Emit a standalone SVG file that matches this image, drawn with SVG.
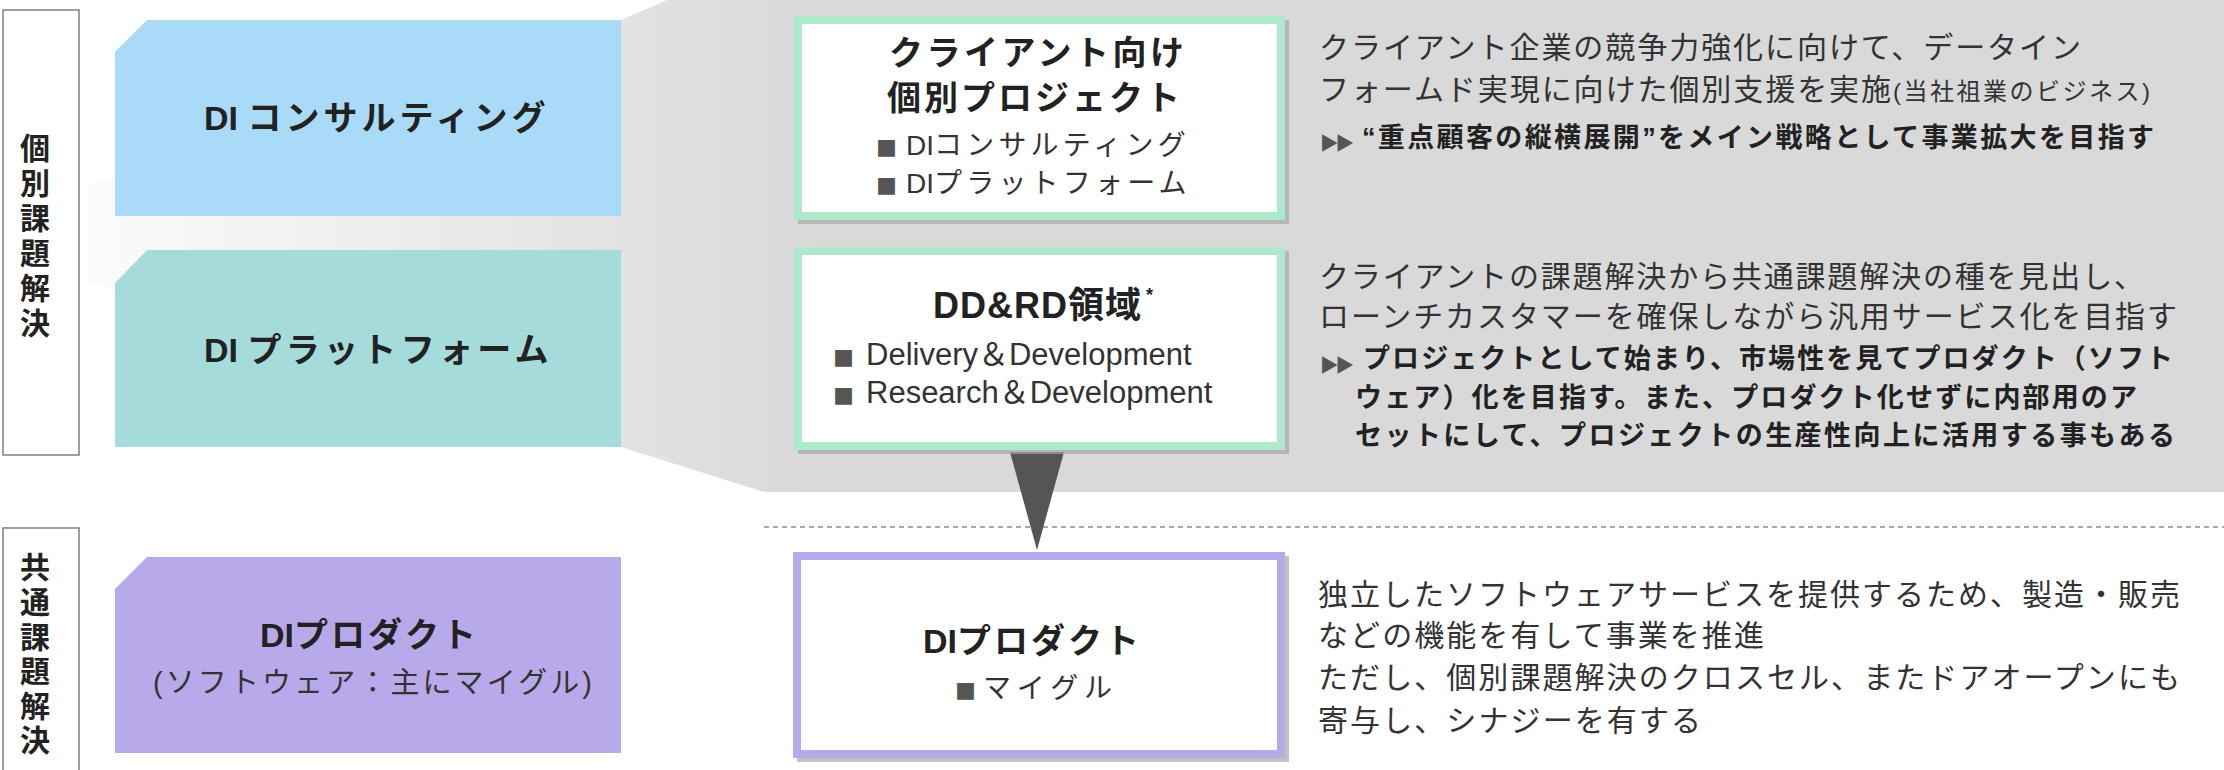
<svg xmlns="http://www.w3.org/2000/svg" width="2224" height="770" viewBox="0 0 2224 770">
<style>
.jp{font-family:"Liberation Sans","Noto Sans CJK JP",sans-serif;}
.b{font-weight:700;fill:#222;}
.n{font-weight:400;fill:#333;}
.lbl{font-family:"Noto Sans CJK JP",sans-serif;font-weight:700;font-size:30px;fill:#222;writing-mode:vertical-rl;text-orientation:upright;}
.lblbox{fill:#fff;stroke:#7f7f7f;stroke-width:1.5;}
.sq{font-family:"Noto Sans CJK JP",sans-serif;fill:#555;}
.tri{font-family:"DejaVu Sans",sans-serif;fill:#555;font-size:23px;}
.shadow{fill:#a6a6a6;opacity:.7;}
.card{fill:#fff;stroke-width:8;}
.mint{stroke:#ade9cc;}
.lav{stroke:#b8aaea;}
</style>
<defs>
<linearGradient id="bandGrad" gradientUnits="userSpaceOnUse" x1="87" y1="0" x2="820" y2="0">
<stop offset="0" stop-color="#fbfbfb"/>
<stop offset="1" stop-color="#d9d9d9"/>
</linearGradient>
</defs>
<rect width="2224" height="770" fill="#fff"/>
<g id="band">
<polygon points="87,185 621,20 667,0 2224,0 2224,492 764,492 621,447 87,282" fill="url(#bandGrad)"/>
</g>
<g id="label-individual">
<rect class="lblbox" x="3" y="10" width="76" height="445"/>
<text class="lbl" x="35" y="133" letter-spacing="5">個別課題解決</text>
</g>
<g id="label-common">
<rect class="lblbox" x="3" y="528" width="76" height="260"/>
<text class="lbl" x="35" y="552" letter-spacing="4.6">共通課題解決</text>
</g>
<g id="box-consulting">
<polygon points="147,20 621,20 621,216 115,216 115,52" fill="#a9daf7"/>
<text class="jp b" x="204" y="130" font-size="34">DI <tspan letter-spacing="4">コンサルティング</tspan></text>
</g>
<g id="box-platform">
<polygon points="147,250 621,250 621,447 115,447 115,283" fill="#a5dcdb"/>
<text class="jp b" x="204" y="362" font-size="34">DI <tspan letter-spacing="4.3">プラットフォーム</tspan></text>
</g>
<g id="box-product">
<polygon points="147,557 621,557 621,753 115,753 115,589" fill="#b8aaea"/>
<text class="jp b" x="260" y="647" font-size="34">DI<tspan letter-spacing="3">プロダクト</tspan></text>
<text class="jp n" x="153" y="693" font-size="29" textLength="439" lengthAdjust="spacing">(ソフトウェア：主にマイグル)</text>
</g>
<g id="separator">
<line x1="764" y1="527" x2="2224" y2="527" stroke="#8c8c8c" stroke-width="1.5" stroke-dasharray="5 4"/>
</g>
<g id="connectors">
<polygon points="1010,452 1064,452 1037,550" fill="#555"/>
</g>
<g id="card-client">
<rect class="shadow" x="798" y="20" width="491" height="204"/>
<rect class="card mint" x="798" y="20" width="483" height="196"/>
<text class="jp b" x="889" y="65" font-size="34" textLength="295" lengthAdjust="spacing">クライアント向け</text>
<text class="jp b" x="887" y="110" font-size="34" textLength="293" lengthAdjust="spacing">個別プロジェクト</text>
<text class="sq" x="876" y="156" font-size="21">■</text>
<text class="jp n" x="906" y="155" font-size="28">DI<tspan letter-spacing="4.2">コンサルティング</tspan></text>
<text class="sq" x="876" y="194" font-size="21">■</text>
<text class="jp n" x="906" y="193" font-size="28">DI<tspan letter-spacing="4.2">プラットフォーム</tspan></text>
</g>
<g id="card-ddrd">
<rect class="shadow" x="798" y="251" width="491" height="203"/>
<rect class="card mint" x="798" y="251" width="483" height="195"/>
<text class="jp b" x="933" y="318" font-size="36" letter-spacing="1">DD&amp;RD領域</text>
<text class="jp b" x="1146" y="301" font-size="18">*</text>
<text class="sq" x="833" y="366" font-size="21">■</text>
<text class="jp n" x="866" y="365" font-size="31">Delivery＆Development</text>
<text class="sq" x="833" y="404" font-size="21">■</text>
<text class="jp n" x="866" y="403" font-size="31">Research＆Development</text>
</g>
<g id="card-product">
<rect class="shadow" x="797" y="556" width="492" height="206"/>
<rect class="card lav" x="797" y="556" width="484" height="198"/>
<text class="jp b" x="923" y="653" font-size="34">DI<tspan letter-spacing="3">プロダクト</tspan></text>
<text class="sq" x="955" y="699" font-size="21">■</text>
<text class="jp n" x="983" y="698" font-size="28" textLength="129" lengthAdjust="spacing">マイグル</text>
</g>
<g id="desc-client">
<text class="jp n" x="1319" y="58" font-size="30" textLength="762" lengthAdjust="spacing">クライアント企業の競争力強化に向けて、データイン</text>
<text class="jp n" x="1319" y="100" font-size="30" textLength="572" lengthAdjust="spacing">フォームド実現に向けた個別支援を実施</text>
<text class="jp n" x="1893" y="100" font-size="24" textLength="257" lengthAdjust="spacing">(当社祖業のビジネス)</text>
<text class="tri" x="1322" y="149" textLength="31" lengthAdjust="spacingAndGlyphs">▶▶</text>
<text class="jp b" x="1362" y="147" font-size="27" textLength="792" lengthAdjust="spacing">“重点顧客の縦横展開”をメイン戦略として事業拡大を目指す</text>
</g>
<g id="desc-ddrd">
<text class="jp n" x="1319" y="287" font-size="30" textLength="825" lengthAdjust="spacing">クライアントの課題解決から共通課題解決の種を見出し、</text>
<text class="jp n" x="1319" y="327" font-size="30" textLength="858" lengthAdjust="spacing">ローンチカスタマーを確保しながら汎用サービス化を目指す</text>
<text class="tri" x="1322" y="371" textLength="31" lengthAdjust="spacingAndGlyphs">▶▶</text>
<text class="jp b" x="1363" y="368" font-size="27" textLength="810" lengthAdjust="spacing">プロジェクトとして始まり、市場性を見てプロダクト（ソフト</text>
<text class="jp b" x="1355" y="407" font-size="27" textLength="782" lengthAdjust="spacing">ウェア）化を目指す。また、プロダクト化せずに内部用のア</text>
<text class="jp b" x="1355" y="445" font-size="27" textLength="820" lengthAdjust="spacing">セットにして、プロジェクトの生産性向上に活用する事もある</text>
</g>
<g id="desc-product">
<text class="jp n" x="1318" y="605" font-size="30" textLength="862" lengthAdjust="spacing">独立したソフトウェアサービスを提供するため、製造・販売</text>
<text class="jp n" x="1318" y="646" font-size="30" textLength="446" lengthAdjust="spacing">などの機能を有して事業を推進</text>
<text class="jp n" x="1318" y="688" font-size="30" textLength="862" lengthAdjust="spacing">ただし、個別課題解決のクロスセル、またドアオープンにも</text>
<text class="jp n" x="1318" y="731" font-size="30" textLength="383" lengthAdjust="spacing">寄与し、シナジーを有する</text>
</g>
</svg>
